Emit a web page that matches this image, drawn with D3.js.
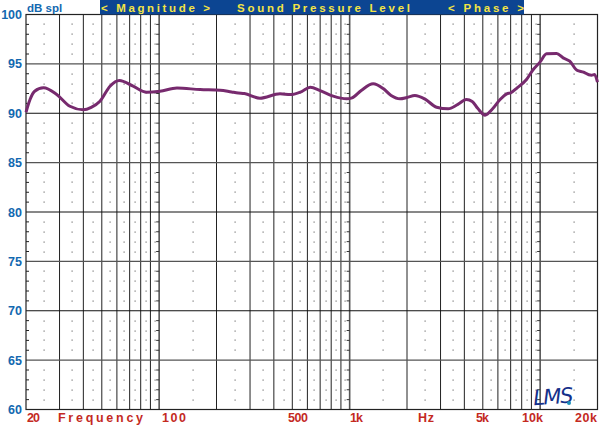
<!DOCTYPE html>
<html><head><meta charset="utf-8">
<script src="https://cdn.jsdelivr.net/npm/d3@7"></script>
<style>html,body{margin:0;padding:0;background:#fff;}svg{display:block;}</style>
</head><body>
<svg id="c" width="600" height="425"></svg>
<script>
// ---- data ----
const freqs = [20, 21, 22.2, 24.7, 29, 34, 40, 44, 48.9, 55.2, 61.8, 73, 86, 101, 124, 164, 209, 240, 260, 280, 338, 431, 488, 560, 621, 700, 820, 966, 1030, 1150, 1328, 1500, 1650, 1838, 2000, 2200, 2500, 2860, 3290, 3700, 4100, 4400, 4700, 5140, 5600, 6160, 6680, 7000, 7600, 8480, 9200, 10000, 10800, 12200, 13200, 14300, 15600, 16900, 18000, 18600, 19300, 20000];
const spl   = [90.1, 91.39, 92.23, 92.58, 91.9, 90.71, 90.35, 90.6, 91.22, 92.74, 93.32, 92.74, 92.13, 92.23, 92.55, 92.4, 92.33, 92.15, 92.05, 92.0, 91.52, 91.97, 91.9, 92.2, 92.64, 92.3, 91.73, 91.46, 91.56, 92.3, 92.98, 92.5, 91.8, 91.46, 91.6, 91.8, 91.4, 90.61, 90.45, 90.9, 91.39, 91.2, 90.5, 89.81, 90.4, 91.39, 91.97, 92.07, 92.6, 93.42, 94.43, 95.2, 96.02, 96.05, 95.61, 95.27, 94.36, 94.16, 93.9, 93.86, 93.92, 93.14];
const yTicks = [60, 65, 70, 75, 80, 85, 90, 95, 100];
const gridFreqs = [30,40,50,60,70,80,90,100,200,300,400,500,600,700,800,900,1000,2000,3000,4000,5000,6000,7000,8000,9000,10000];
const decadeFreqs = [100, 1000, 10000];
const dotFreqs = [25,35,45,55,65,75,85,95,150,250,350,450,550,650,750,850,950,1500,2500,3500,4500,5500,6500,7500,8500,9500,15000];
const xLabels = ["20", "Frequency", "100", "500", "1k", "Hz", "5k", "10k", "20k"];
const bannerTexts = ["< Magnitude >", "Sound Pressure Level", "< Phase >"];

// ---- layout ----
const L = 26, R = 597.5, T = 14.5, B = 409.5;
const svg = d3.select("#c");
const x = d3.scaleLog().domain([20, 20000]).range([L, R]);
const y = d3.scaleLinear().domain([60, 100]).range([B, T]);

// dots
const dotG = svg.append("g").attr("fill", "#777");
const dbs = d3.range(61, 100).filter(d => d % 5 !== 0);
dotFreqs.forEach(f => dbs.forEach(d => {
  dotG.append("rect").attr("x", Math.round(x(f)) - 0.5).attr("y", Math.round(y(d)) - 0.5).attr("width", 1.2).attr("height", 1.2);
}));

// grid
const grid = svg.append("g");
gridFreqs.forEach(f => {
  const dec = decadeFreqs.includes(f);
  grid.append("line").attr("x1", x(f)).attr("x2", x(f)).attr("y1", T).attr("y2", B)
    .attr("stroke", dec ? "#555" : "#222").attr("stroke-width", dec ? 1.6 : 1);
});
yTicks.slice(1, -1).forEach(d => {
  grid.append("line").attr("x1", L).attr("x2", R).attr("y1", y(d)).attr("y2", y(d))
    .attr("stroke", d % 10 === 0 ? "#111" : "#555").attr("stroke-width", d % 10 === 0 ? 1 : 1.4);
});
d3.range(61, 100).filter(d => d % 5 !== 0).forEach(d => {
  grid.append("line").attr("x1", L).attr("x2", L + 3).attr("y1", y(d)).attr("y2", y(d)).attr("stroke", "#222");
  decadeFreqs.forEach(f => {
    grid.append("line").attr("x1", x(f) - 3).attr("x2", x(f)).attr("y1", y(d)).attr("y2", y(d)).attr("stroke", "#333");
  });
});
svg.append("rect").attr("x", L).attr("y", T).attr("width", R - L).attr("height", B - T)
  .attr("fill", "none").attr("stroke", "#222").attr("stroke-width", 1.2);

// curve
const pts = freqs.map((f, i) => [x(f), y(spl[i])]);
svg.append("path").attr("d", d3.line().curve(d3.curveMonotoneX)(pts))
  .attr("fill", "none").attr("stroke", "#772a6e").attr("stroke-width", 3).attr("stroke-linejoin", "round");

// y labels
const blue = "#1268b0";
svg.append("g").selectAll("text").data(yTicks).join("text")
  .attr("x", 22).attr("y", d => y(d) + 4.5).attr("text-anchor", "end")
  .attr("font-family", "Liberation Sans, Arial, sans-serif").attr("font-weight", "bold").attr("font-size", 12.5)
  .attr("fill", blue).text(d => d);
svg.append("text").attr("x", 27).attr("y", 11.5).attr("font-family", "Liberation Sans, Arial, sans-serif")
  .attr("font-weight", "bold").attr("font-size", 11.5).attr("fill", blue).text("dB spl");

// banner
svg.append("rect").attr("x", 100).attr("y", 0).attr("width", 424).attr("height", 14.5).attr("fill", "#0c4592");
const bannerX = [101, 237, 448];
const bannerW = [109, 173, 76];
bannerTexts.forEach((t, i) => {
  svg.append("text").attr("x", bannerX[i]).attr("y", 11.5)
    .attr("textLength", bannerW[i]).attr("lengthAdjust", "spacing")
    .attr("font-family", "Liberation Sans, Arial, sans-serif").attr("font-weight", "bold").attr("font-size", 11.5)
    .attr("fill", "#f3e445").text(t);
});

// x labels
const red = "#c42a1f";
const xLabelX = [27, 58, 162, 288, 350, 418, 476, 522, 575];
const xLabelW = [13, 85, 24, 20, 13, 16, 13, 21, 22];
xLabels.forEach((t, i) => {
  svg.append("text").attr("x", xLabelX[i]).attr("y", 422).attr("font-family", "Liberation Sans, Arial, sans-serif")
    .attr("font-weight", "bold").attr("font-size", 12.5)
    .attr("textLength", xLabelW[i]).attr("lengthAdjust", "spacing")
    .attr("fill", red).text(t);
});

// logo
svg.append("text").attr("x", 533).attr("y", 404).attr("font-family", "DejaVu Sans, sans-serif")
  .attr("font-style", "italic").attr("font-size", 21).attr("letter-spacing", -1.5).attr("fill", "#15308a")
  .attr("transform", "rotate(-4 550 395)").text("LMS");
svg.append("circle").attr("cx", 569).attr("cy", 403).attr("r", 2).attr("fill", "#1d8fb8");
</script>
</body></html>
